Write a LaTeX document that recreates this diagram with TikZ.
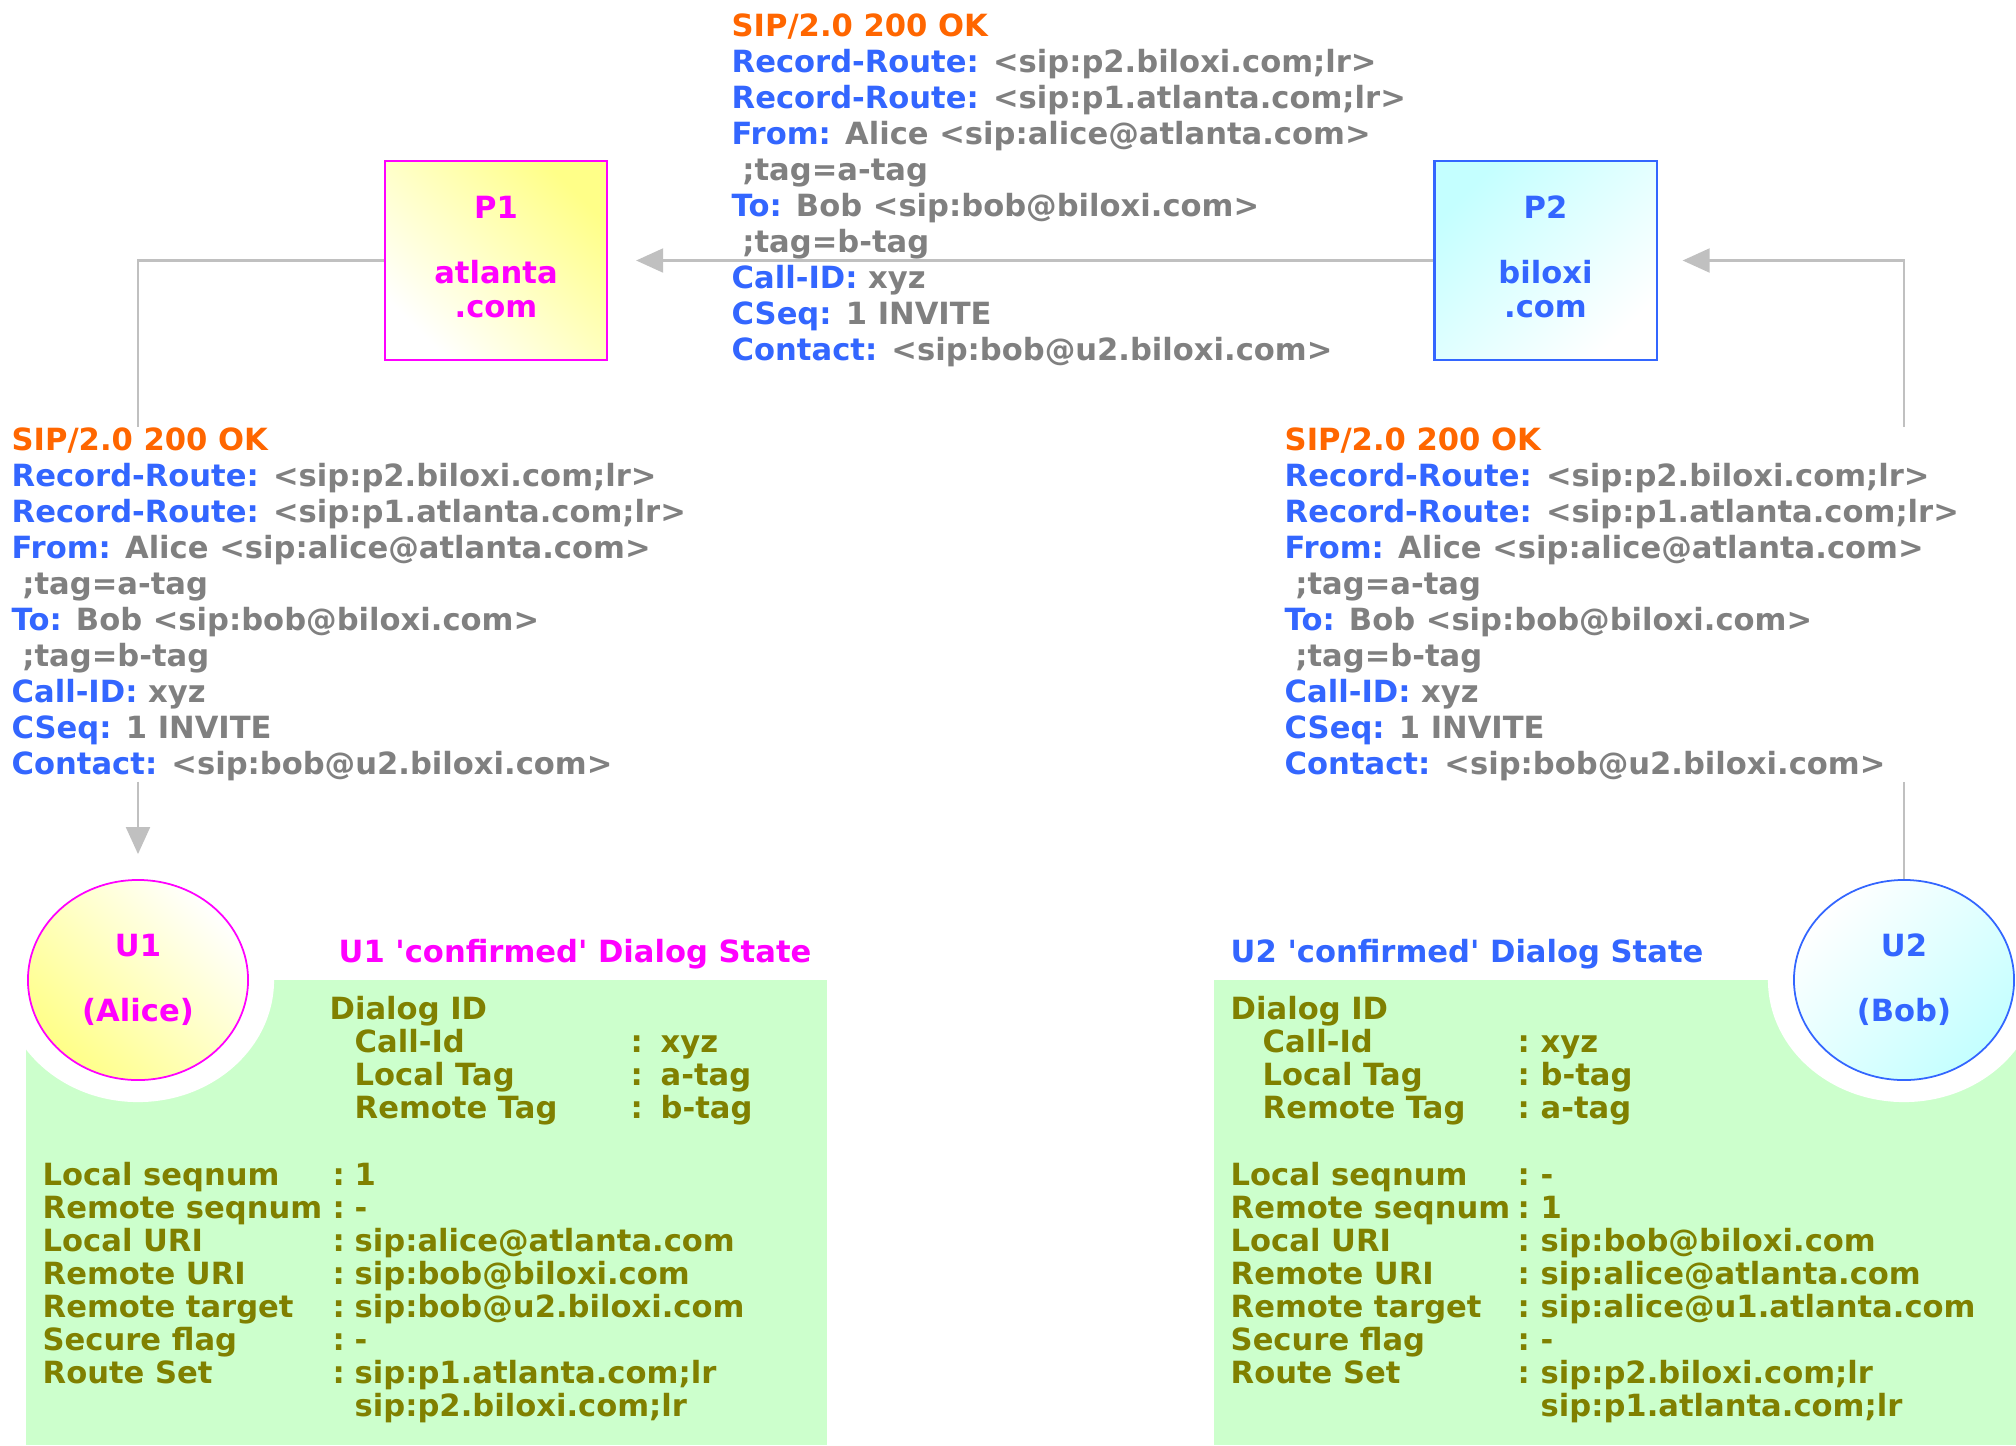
\documentclass[tikz,border=0pt]{standalone}
\usepackage{fontspec}
\setmainfont{DejaVu Sans}
\usetikzlibrary{arrows.meta,shapes.geometric}
\definecolor{okred}{HTML}{FF6600}
\definecolor{hdrblue}{HTML}{3366FF}
\definecolor{valgray}{HTML}{808080}
\definecolor{stateolive}{HTML}{808000}
\definecolor{stategreen}{HTML}{CCFFCC}
\definecolor{wiregray}{HTML}{C0C0C0}
\definecolor{alicemag}{HTML}{FF00FF}
\definecolor{ylw}{HTML}{FFFF88}
\definecolor{cyn}{HTML}{C4FFFF}
\newcommand{\fld}[1]{\textcolor{hdrblue}{#1}}
\newcommand{\okmsg}{\textcolor{okred}{SIP/2.0 200 OK}\\
  \fld{Record-Route:} <sip:p2.biloxi.com;lr>\\
  \fld{Record-Route:} <sip:p1.atlanta.com;lr>\\
  \fld{From:} Alice <sip:alice@atlanta.com>\\
  \ ;tag=a-tag\\
  \fld{To:} Bob <sip:bob@biloxi.com>\\
  \ ;tag=b-tag\\
  \fld{Call-ID:} xyz\\
  \fld{CSeq:} 1 INVITE\\
  \fld{Contact:} <sip:bob@u2.biloxi.com>}
\tikzset{
  txt/.style={font=\fontsize{8.7}{10.24}\selectfont\bfseries, inner sep=0pt},
  msg/.style={txt, text=valgray, align=left, anchor=north west},
  proxy/.style={rectangle, draw, line width=0.6pt, minimum width=2.22cm, minimum height=1.99cm,
    inner sep=0pt, align=center, font=\fontsize{8.7}{9.67}\selectfont\bfseries},
  ua/.style={ellipse, draw, line width=0.5pt, minimum width=2.2cm, minimum height=2cm,
    inner sep=0pt, align=center, font=\fontsize{8.7}{9.67}\selectfont\bfseries},
  st/.style={txt, text=stateolive, anchor=base west},
  wire/.style={draw=wiregray, line width=0.6pt},
  flow/.style={wire, -{Triangle[length=2.7mm, width=2.4mm]}}
}
\begin{document}
\begin{tikzpicture}[x=0.01cm, y=-0.01cm]
  \useasboundingbox (0,0) rectangle (2016,1445);

  % dialog state panels, cut round the user agents
  \fill[stategreen] (26,980) rectangle (827,1445);
  \fill[stategreen] (1214,980) rectangle (2016,1445);
  \coordinate (c1) at (138,980);
  \coordinate (c2) at (1904,980);
  \fill[white] (c1) ellipse [x radius=1.36cm, y radius=1.22cm];
  \fill[white] (c2) ellipse [x radius=1.36cm, y radius=1.22cm];

  % user agents and proxies
  \node[ua, draw=alicemag, text=alicemag, top color=white, bottom color=ylw, shading angle=-45] (u1) at (c1) {U1\\[0.31cm](Alice)};
  \node[ua, draw=hdrblue, text=hdrblue, top color=white, bottom color=cyn, shading angle=45] (u2) at (c2) {U2\\[0.31cm](Bob)};
  \node[proxy, draw=alicemag, text=alicemag, top color=ylw, bottom color=white, shading angle=-45] (p1) at (496,260.5) {P1\\[0.31cm]atlanta\\.com\rule[-0.08cm]{0pt}{0pt}};
  \node[proxy, draw=hdrblue, text=hdrblue, top color=cyn, bottom color=white, shading angle=45] (p2) at (1545.5,260.5) {P2\\[0.31cm]biloxi\\.com\rule[-0.08cm]{0pt}{0pt}};

  % the 200 OK on each hop
  \node[msg] (msgT) at (731,13) {\okmsg};
  \node[msg] (msgL) at (11,427) {\okmsg};
  \node[msg] (msgR) at (1284,427) {\okmsg};

  \draw[wire] (u2.north) -- (u2.north |- msgR.south);
  \draw[flow, shorten >=2.5mm] (u2.north |- msgR.north) |- (p2.east);
  \draw[flow, shorten >=2.8mm] (p2.west) -- (p1.east);
  \draw[wire] (p1.west) -| (u1.north |- msgL.north);
  \draw[flow, shorten >=2.5mm] (u1.north |- msgL.south) -- (u1.north);

  % U1 'confirmed' dialog state
  \node[txt, text=alicemag, anchor=base west] (ttl1) at (338,962) {U1 \textquotesingle confirmed\textquotesingle\ Dialog State};
  \node[st] (id1) at (329,1019) {Dialog ID};
  \foreach \lbl/\val [count=\i] in {Call-Id/xyz, Local Tag/a-tag, Remote Tag/b-tag}{
    \node[st] (a\i) at (354,{1019+33*\i}) {\lbl};
    \node[st] (ac\i) at (630,{1019+33*\i}) {:};
    \node[st] (av\i) at (660,{1019+33*\i}) {\val};
  }
  \foreach \lbl/\val [count=\i] in {Local seqnum/1, Remote seqnum/-, Local URI/sip:alice@atlanta.com,
      Remote URI/sip:bob@biloxi.com, Remote target/sip:bob@u2.biloxi.com, Secure flag/-,
      Route Set/sip:p1.atlanta.com;lr}{
    \node[st] (b\i) at (42,{1152+33*\i}) {\lbl};
    \node[st] (bc\i) at (332,{1152+33*\i}) {:};
    \node[st] (bv\i) at (354,{1152+33*\i}) {\val};
  }
  \node[st] (bv8) at (354,1416) {sip:p2.biloxi.com;lr};

  % U2 'confirmed' dialog state
  \node[txt, text=hdrblue, anchor=base west] (ttl2) at (1230,962) {U2 \textquotesingle confirmed\textquotesingle\ Dialog State};
  \node[st] (id2) at (1230,1019) {Dialog ID};
  \foreach \lbl/\val [count=\i] in {Call-Id/xyz, Local Tag/b-tag, Remote Tag/a-tag}{
    \node[st] (c\i) at (1262,{1019+33*\i}) {\lbl};
    \node[st] (cc\i) at (1517,{1019+33*\i}) {:};
    \node[st] (cv\i) at (1540,{1019+33*\i}) {\val};
  }
  \foreach \lbl/\val [count=\i] in {Local seqnum/-, Remote seqnum/1, Local URI/sip:bob@biloxi.com,
      Remote URI/sip:alice@atlanta.com, Remote target/sip:alice@u1.atlanta.com, Secure flag/-,
      Route Set/sip:p2.biloxi.com;lr}{
    \node[st] (d\i) at (1230,{1152+33*\i}) {\lbl};
    \node[st] (dc\i) at (1517,{1152+33*\i}) {:};
    \node[st] (dv\i) at (1540,{1152+33*\i}) {\val};
  }
  \node[st] (dv8) at (1540,1416) {sip:p1.atlanta.com;lr};
\end{tikzpicture}
\end{document}
